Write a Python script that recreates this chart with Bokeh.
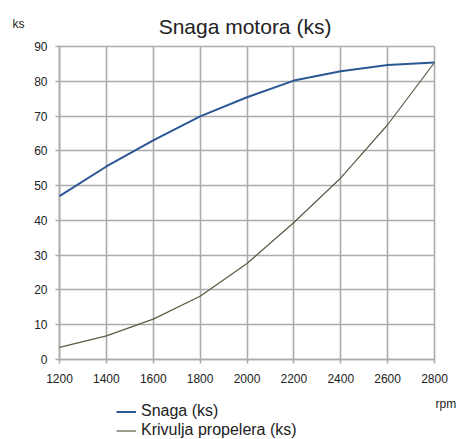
from bokeh.plotting import figure
from bokeh.models import Label, Legend, LegendItem, FixedTicker, Range1d
from bokeh.embed import file_html
from bokeh.resources import INLINE

rpm = [1200, 1400, 1600, 1800, 2000, 2200, 2400, 2600, 2800]
snaga = [47.0, 55.5, 63.0, 69.9, 75.4, 80.2, 82.9, 84.7, 85.4]
propeler = [3.5, 6.8, 11.6, 18.2, 27.6, 39.4, 52.2, 67.5, 85.4]
x_ticks = [1200, 1400, 1600, 1800, 2000, 2200, 2400, 2600, 2800]
y_ticks = [0, 10, 20, 30, 40, 50, 60, 70, 80, 90]

FONT = "Liberation Sans"
GRID = "#ababab"
TXT = "#222222"

W, H = 459, 439
# plot area in canvas pixels
L, R, T, B = 59, 434, 46, 359
x0, x1 = x_ticks[0], x_ticks[-1]
y0, y1 = y_ticks[0], y_ticks[-1]
sx = (x1 - x0) / (R - L)
sy = (y1 - y0) / (B - T)

p = figure(width=W, height=H, output_backend="svg", toolbar_location=None,
           x_range=Range1d(x0 - L * sx, x1 + (W - R) * sx),
           y_range=Range1d(y0 - (H - B) * sy, y1 + T * sy),
           min_border=0)
p.title.visible = False
p.outline_line_color = None
p.grid.visible = False

xa, ya = p.xaxis[0], p.yaxis[0]
xa.fixed_location = y0
xa.bounds = (x0, x1)
ya.fixed_location = x0
ya.bounds = (y0, y1)
for ax in (xa, ya):
    ax.axis_line_color = GRID
    ax.axis_line_width = 1.6
    ax.major_tick_line_color = GRID
    ax.major_tick_line_width = 1.6
    ax.major_tick_out = 4
    ax.minor_tick_line_color = None
    ax.major_label_text_font = FONT
    ax.major_label_text_font_size = "12px"
    ax.major_label_text_color = TXT
xa.ticker = FixedTicker(ticks=x_ticks)
ya.ticker = FixedTicker(ticks=y_ticks)
xa.major_tick_in = B - T
ya.major_tick_in = R - L
xa.major_label_standoff = 10
ya.major_label_standoff = 8

r1 = p.line(rpm, snaga, line_color="#2b5894", line_width=2)
r2 = p.line(rpm, propeler, line_color="#5e5943", line_width=1.2)
r1.level = "overlay"
r2.level = "overlay"

legend = Legend(items=[LegendItem(label="Snaga (ks)", renderers=[r1]),
                       LegendItem(label="Krivulja propelera (ks)", renderers=[r2])],
                location=(116, -0.5), orientation="vertical",
                label_text_font=FONT, label_text_font_size="16px", label_text_color=TXT,
                glyph_width=20, glyph_height=19, label_height=19, label_standoff=5,
                spacing=0, padding=0, margin=0, border_line_color=None,
                background_fill_alpha=0)
p.add_layout(legend, "center")

p.add_layout(Label(x=244.5, y=H - 26, x_units="screen", y_units="screen", text="Snaga motora (ks)",
                   text_font=FONT, text_font_size="21px", text_align="center",
                   text_baseline="alphabetic", text_color=TXT))
p.add_layout(Label(x=12, y=H - 23, x_units="screen", y_units="screen", text="ks",
                   text_font=FONT, text_font_size="12px", text_align="left",
                   text_baseline="middle", text_color=TXT))
p.add_layout(Label(x=435, y=H - 403, x_units="screen", y_units="screen", text="rpm",
                   text_font=FONT, text_font_size="12px", text_align="left",
                   text_baseline="middle", text_color=TXT))

open("out.html", "w").write(file_html(p, INLINE))
